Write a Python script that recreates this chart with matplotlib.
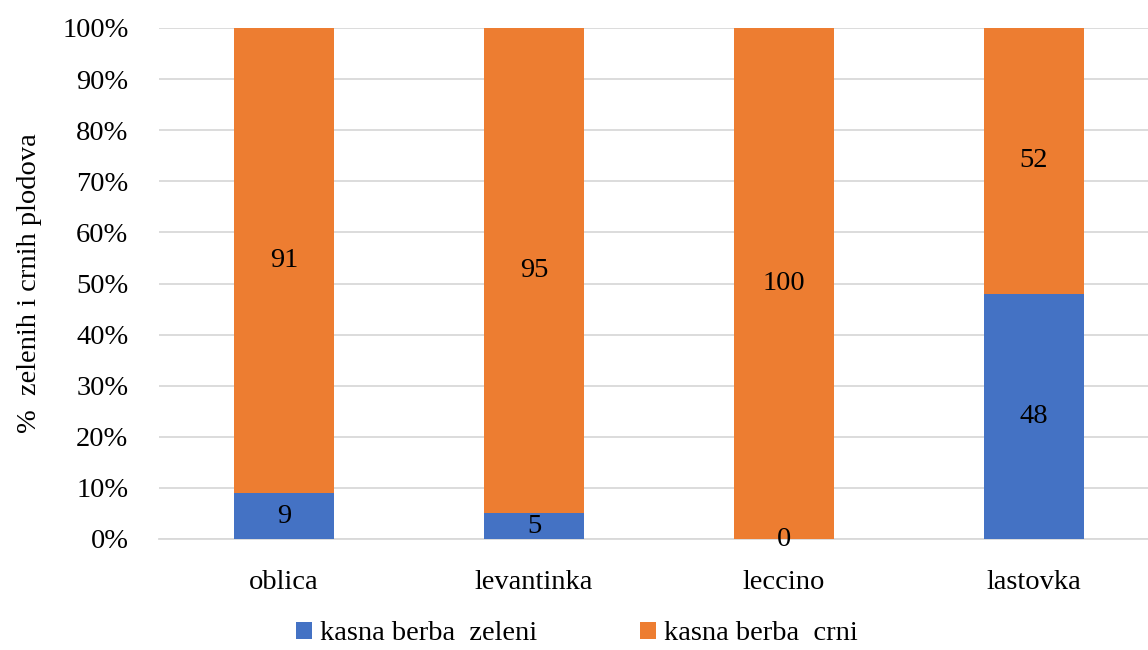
import numpy as np
import matplotlib.pyplot as plt

plt.rcParams['font.family'] = ['Liberation Serif', 'DejaVu Serif']

categories = ["oblica", "levantinka", "leccino", "lastovka"]
zeleni = [9, 5, 0, 48]
crni = [91, 95, 100, 52]
series_names = ["kasna berba  zeleni", "kasna berba  crni"]
yticks = [0, 10, 20, 30, 40, 50, 60, 70, 80, 90, 100]

W, H = 1148, 650
FS = 20.5
fig = plt.figure(figsize=(W / 100, H / 100), dpi=100)
ax = fig.add_axes([159 / W, 1 - 539 / H, (1148 - 159) / W, (539 - 28) / H])

x = np.arange(len(categories))
blue, orange = "#4472c4", "#ed7d31"
b1 = ax.bar(x, zeleni, width=0.4, color=blue, label=series_names[0], zorder=3)
b2 = ax.bar(x, crni, width=0.4, bottom=zeleni, color=orange, label=series_names[1], zorder=3)

for xi, z, c in zip(x, zeleni, crni):
    ax.text(xi, z / 2, str(z), ha="center", va="center", fontsize=FS, zorder=4)
    ax.text(xi, z + c / 2, str(c), ha="center", va="center", fontsize=FS, zorder=4)

ax.set_xlim(-0.5, -0.5 + (1148 - 159) / 250)
ax.set_ylim(0, 100)
ax.set_yticks(yticks)
ax.set_yticklabels([f"{t}%" for t in yticks])
ax.set_xticks(x)
ax.set_xticklabels(categories)
ax.tick_params(axis="both", length=0, labelsize=FS)
ax.tick_params(axis="y", pad=22)
ax.tick_params(axis="x", pad=22)
ax.yaxis.grid(True, color="#d9d9d9", linewidth=1.3, zorder=0)
for s in ["top", "right", "left"]:
    ax.spines[s].set_visible(False)
ax.spines["bottom"].set_color("#d9d9d9")
ax.spines["bottom"].set_linewidth(1.3)

ax.set_ylabel("%  zelenih i crnih plodova", fontsize=FS)
ax.yaxis.set_label_coords(-0.118, 0.5)

fig.legend(handles=[b1, b2], loc="center", bbox_to_anchor=(577 / W, 1 - 634 / H),
           ncol=2, frameon=False, fontsize=FS, handlelength=0.55, handleheight=0.55,
           handletextpad=0.3, columnspacing=3.6)

fig.savefig("out.png", dpi=100)
